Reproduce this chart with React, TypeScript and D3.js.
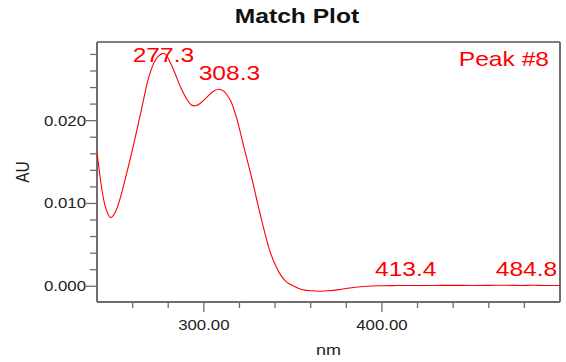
import * as d3 from 'd3';

// spectrum samples (nm, AU)
const wavelengths = [
  240, 242, 244, 246, 247.5, 249, 251, 253.5, 256, 258, 260, 262, 264.5, 266.5, 268.5, 270.5, 272.5,
  274.5, 276.7, 278.5, 281.4, 284, 287, 290.7, 293, 295.4, 298, 302, 305, 308.4, 311, 315, 317.7,
  319.8, 322.5, 326.1, 330, 333.6, 337, 340.3, 343, 346, 350.6, 355, 360, 365.5, 370, 376, 382,
  388, 395, 400, 406, 413.4, 420, 430, 440, 450, 460, 470, 478, 484.8, 492, 500,
];
const absorbance = [
  0.0162, 0.0128, 0.0102, 0.0088, 0.0083, 0.0085, 0.0093, 0.0110, 0.0131, 0.0148, 0.0166, 0.0185,
  0.0209, 0.0229, 0.0248, 0.0262, 0.0272, 0.0278, 0.0281, 0.028, 0.0269, 0.0256, 0.024, 0.0225,
  0.0219, 0.0218, 0.0221, 0.0229, 0.0235, 0.0238, 0.0236, 0.0224, 0.0208, 0.0192, 0.0168, 0.0138,
  0.0102, 0.0070, 0.0043, 0.0025, 0.0014, 0.0006, 0.0, -0.0004, -0.00055, -0.0006, -0.00055,
  -0.0004, -0.0002, -0.00005, 0.00004, 0.00006, 0.00008, 0.0001, 0.00009, 0.0001, 0.00011, 0.0001,
  0.00011, 0.00012, 0.0001, 0.00012, 0.0001, 0.0001,
];

const peakNm = [277.3, 308.3, 413.4, 484.8];
const peakAu = [0.0281, 0.0238, 0.0001, 0.0001];

const yMajor = [0, 0.01, 0.02];
const yMinor = [0.002, 0.004, 0.006, 0.008, 0.012, 0.014, 0.016, 0.018, 0.022, 0.024, 0.026, 0.028];
const xMajor = [300, 400];
const xMinor = [260, 280, 320, 340, 360, 380, 420, 440, 460, 480];

const W = 566;
const H = 362;
const m = { left: 97, right: 6, top: 42, bottom: 60 };
const font = '"Liberation Sans", Arial, sans-serif';
const red = '#ff0000';
const axisGray = '#6e6e6e';
const SX = 1.2; // the original render is stretched horizontally

function Label({ x, y, size, anchor = 'middle', fill = '#222', bold = false, children }: any) {
  return (
    <g transform={`translate(${x},${y}) scale(${SX},1)`}>
      <text textAnchor={anchor} fontSize={size} fontWeight={bold ? 'bold' : 'normal'} fill={fill}>
        {children}
      </text>
    </g>
  );
}

export default function App() {
  const x = d3.scaleLinear().domain([240, 500]).range([m.left, W - m.right]);
  const y = d3.scaleLinear().domain([-0.0019, 0.0295]).range([H - m.bottom, m.top]);
  const pts = wavelengths.map((w, i) => [w, absorbance[i]] as [number, number]);
  const line = d3
    .line<[number, number]>()
    .x((d) => x(d[0]))
    .y((d) => y(d[1]))
    .curve(d3.curveCatmullRom.alpha(0.5));

  const [x0, x1] = x.range();
  const [yb, yt] = y.range();

  // peak label placement: centered on peak, pushed right to avoid overlap, kept inside frame
  const labelW = 63;
  let prevEnd = -Infinity;
  const labels = peakNm.map((nm, i) => {
    let start = x(nm) - labelW / 2;
    if (start < prevEnd + 3) start = prevEnd + 3;
    if (start + labelW > x1 - 2) start = x1 - 2 - labelW;
    prevEnd = start + labelW;
    const base = Math.max(y(peakAu[i]) - 9, yt + 20);
    return { text: nm.toFixed(1), cx: start + labelW / 2, base };
  });

  return (
    <svg width={W} height={H} style={{ position: 'absolute', left: 0, top: 0, background: '#fff' }} fontFamily={font}>
      <defs>
        <clipPath id="plot">
          <rect x={x0} y={yt} width={x1 - x0} height={yb - yt} />
        </clipPath>
      </defs>
      <Label x={297} y={23} size={20.5} bold fill="#111">Match Plot</Label>

      {/* frame */}
      <line x1={x0} x2={x1} y1={yt} y2={yt} stroke="#000" strokeWidth={1.2} />
      <line x1={x1} x2={x1} y1={yt} y2={yb} stroke={axisGray} strokeWidth={2} />
      <line x1={x0} x2={x0} y1={yt} y2={yb} stroke={axisGray} strokeWidth={2} />
      <line x1={x0} x2={x1} y1={yb} y2={yb} stroke={axisGray} strokeWidth={2} />

      {yMinor.map((v) => (
        <line key={'ym' + v} x1={x0 - 7} x2={x0} y1={y(v)} y2={y(v)} stroke={axisGray} strokeWidth={1.3} />
      ))}
      {yMajor.map((v) => (
        <g key={'yM' + v}>
          <line x1={x0 - 11} x2={x0} y1={y(v)} y2={y(v)} stroke={axisGray} strokeWidth={1.3} />
          <Label x={x0 - 11} y={y(v) + 5} size={14} anchor="end">{v.toFixed(3)}</Label>
        </g>
      ))}
      {xMinor.map((v) => (
        <line key={'xm' + v} x1={x(v)} x2={x(v)} y1={yb} y2={yb + 6} stroke={axisGray} strokeWidth={1.3} />
      ))}
      {xMajor.map((v) => (
        <g key={'xM' + v}>
          <line x1={x(v)} x2={x(v)} y1={yb} y2={yb + 10} stroke={axisGray} strokeWidth={1.3} />
          <Label x={x(v)} y={330} size={14}>{v.toFixed(2)}</Label>
        </g>
      ))}

      <g transform={`translate(28.5, ${(yt + yb) / 2}) rotate(-90) scale(1, ${SX})`}>
        <text textAnchor="middle" fontSize={15.5} fill="#222">AU</text>
      </g>
      <Label x={(x0 + x1) / 2} y={355} size={15}>nm</Label>

      <path d={line(pts) ?? ''} fill="none" stroke={red} strokeWidth={1.1} clipPath="url(#plot)" />

      {labels.map((l) => (
        <Label key={l.text} x={l.cx} y={l.base} size={20.5} fill={red}>{l.text}</Label>
      ))}
      <Label x={x1 - 11} y={yt + 24} size={20.5} anchor="end" fill={red}>Peak #8</Label>
    </svg>
  );
}
